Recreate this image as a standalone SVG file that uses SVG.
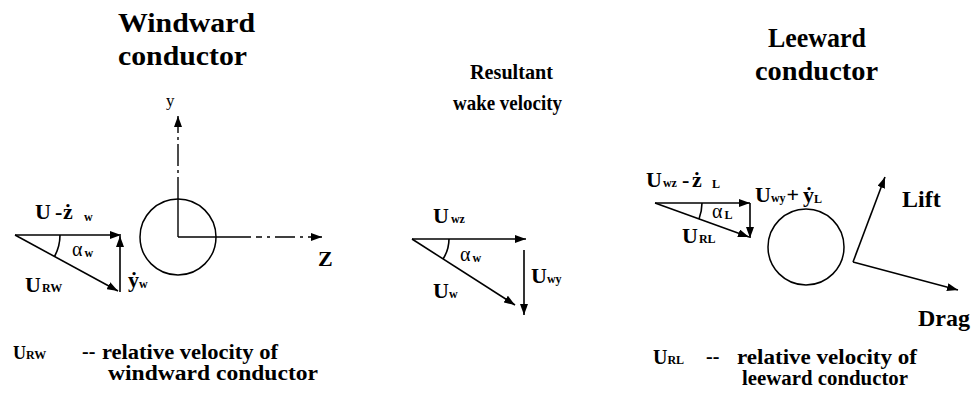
<svg xmlns="http://www.w3.org/2000/svg" width="979" height="398" viewBox="0 0 979 398">
<style>
text{font-family:'Liberation Serif','Times New Roman',serif;fill:#000}
.t{font-weight:bold}
.b{font-size:22px;font-weight:bold}
.s{font-size:12px;font-weight:bold}
.g{font-size:20px;font-weight:normal}
.ln{stroke:#000;stroke-width:1.6;fill:none}
.ax{stroke:#000;stroke-width:1.4;fill:none}
.c{stroke:#000;stroke-width:1.5;fill:none}
</style>
<defs>
<marker id="ah" markerUnits="userSpaceOnUse" markerWidth="11" markerHeight="8" refX="11" refY="4" orient="auto">
<path d="M0,0 L11,4 L0,8 z" fill="#000"/>
</marker>
</defs>

<g id="titles">
<text class="t" font-size="28" x="118" y="32" textLength="137" lengthAdjust="spacingAndGlyphs">Windward</text>
<text class="t" font-size="28" x="118" y="65" textLength="129" lengthAdjust="spacingAndGlyphs">conductor</text>
<text class="t" font-size="21" x="470" y="79" textLength="83" lengthAdjust="spacingAndGlyphs">Resultant</text>
<text class="t" font-size="21" x="453" y="110" textLength="109" lengthAdjust="spacingAndGlyphs">wake velocity</text>
<text class="t" font-size="28" x="768" y="47" textLength="98" lengthAdjust="spacingAndGlyphs">Leeward</text>
<text class="t" font-size="28" x="755" y="80" textLength="123" lengthAdjust="spacingAndGlyphs">conductor</text>
</g>

<g id="windward-conductor">
<circle class="c" cx="178" cy="237" r="38"/>
</g>
<g id="leeward-conductor">
<circle class="c" cx="806" cy="247" r="38"/>
</g>

<g id="connectors">
<line class="ax" x1="178" y1="237" x2="178" y2="199"/>
<line class="ax" x1="178" y1="199" x2="178" y2="116" stroke-dasharray="22 4 3 4" marker-end="url(#ah)"/>
<line class="ax" x1="178" y1="237" x2="250" y2="237"/>
<line class="ax" x1="250" y1="237" x2="322" y2="237" stroke-dasharray="6 5 3 5 20 5 3 5" stroke-dashoffset="-6" marker-end="url(#ah)"/>
<line class="ln" x1="15" y1="235" x2="121" y2="235" marker-end="url(#ah)"/>
<line class="ln" x1="120" y1="292" x2="120" y2="236" marker-end="url(#ah)"/>
<line class="ln" x1="15" y1="235" x2="118" y2="291" marker-end="url(#ah)"/>
<path class="ln" d="M60,235 A45,45 0 0 1 54.5,256.5"/>
<line class="ln" x1="412" y1="239" x2="526" y2="239" marker-end="url(#ah)"/>
<line class="ln" x1="524" y1="250" x2="524" y2="315" marker-end="url(#ah)"/>
<line class="ln" x1="412" y1="239" x2="515" y2="305" marker-end="url(#ah)"/>
<path class="ln" d="M449,239 A37,37 0 0 1 443,259"/>
<line class="ln" x1="655" y1="203" x2="750" y2="203" marker-end="url(#ah)"/>
<line class="ln" x1="750" y1="203" x2="750" y2="238" marker-end="url(#ah)"/>
<line class="ln" x1="655" y1="203" x2="749" y2="237" marker-end="url(#ah)"/>
<path class="ln" d="M702,203 A47,47 0 0 1 699,219"/>
<line class="ln" x1="853" y1="262" x2="885" y2="177" marker-end="url(#ah)"/>
<line class="ln" x1="853" y1="262" x2="958" y2="290" marker-end="url(#ah)"/>
</g>

<g id="windward-labels">
<text x="166" y="106" font-size="17">y</text>
<text class="b" x="318" y="266">Z</text>
<text x="35" y="219"><tspan class="b">U</tspan><tspan class="b" x="55">-</tspan><tspan class="b" x="63">ż</tspan><tspan class="s" x="84" dy="2">w</tspan></text>
<text x="72" y="256"><tspan class="g">α</tspan><tspan class="s" dx="2" dy="1">w</tspan></text>
<text x="25" y="292"><tspan class="b">U</tspan><tspan class="s" dx="1">RW</tspan></text>
<text x="128" y="287"><tspan class="b" font-size="20">ẏ</tspan><tspan class="s" dy="1">w</tspan></text>
</g>

<g id="wake-labels">
<text x="433" y="223"><tspan class="b">U</tspan><tspan class="s" dx="2">wz</tspan></text>
<text x="460" y="261"><tspan class="g">α</tspan><tspan class="s" dx="2" dy="1">w</tspan></text>
<text x="433" y="298"><tspan class="b">U</tspan><tspan class="s">w</tspan></text>
<text x="531" y="283"><tspan class="b">U</tspan><tspan class="s">wy</tspan></text>
</g>

<g id="leeward-labels">
<text x="646" y="187"><tspan class="b">U</tspan><tspan class="s" dx="1">wz</tspan><tspan class="b" x="682">-</tspan><tspan class="b" x="692">ż</tspan><tspan class="s" x="712" dy="1">L</tspan></text>
<text x="712" y="218"><tspan class="g">α</tspan><tspan class="s" dx="2" dy="1">L</tspan></text>
<text x="682" y="243"><tspan class="b">U</tspan><tspan class="s" dx="1">RL</tspan></text>
<text x="755" y="202"><tspan class="b">U</tspan><tspan class="s">wy</tspan><tspan class="b" dx="1">+</tspan><tspan class="b" dx="4">ẏ</tspan><tspan class="s" dy="1">L</tspan></text>
<text class="t" font-size="24" x="902" y="207">Lift</text>
<text class="t" font-size="24" x="918" y="326">Drag</text>
</g>

<g id="legend">
<text x="13" y="359"><tspan class="t" font-size="18">U</tspan><tspan class="s" font-size="10">RW</tspan></text>
<text class="t" font-size="20" x="82" y="358">--</text>
<text class="t" font-size="20" x="102" y="359" textLength="176" lengthAdjust="spacingAndGlyphs">relative velocity of</text>
<text class="t" font-size="20" x="108" y="380" textLength="210" lengthAdjust="spacingAndGlyphs">windward conductor</text>
<text x="653" y="364"><tspan class="t" font-size="20">U</tspan><tspan class="s" font-size="11">RL</tspan></text>
<text class="t" font-size="20" x="706" y="363">--</text>
<text class="t" font-size="20" x="737" y="364" textLength="180" lengthAdjust="spacingAndGlyphs">relative velocity of</text>
<text class="t" font-size="20" x="742" y="385" textLength="166" lengthAdjust="spacingAndGlyphs">leeward conductor</text>
</g>
</svg>
